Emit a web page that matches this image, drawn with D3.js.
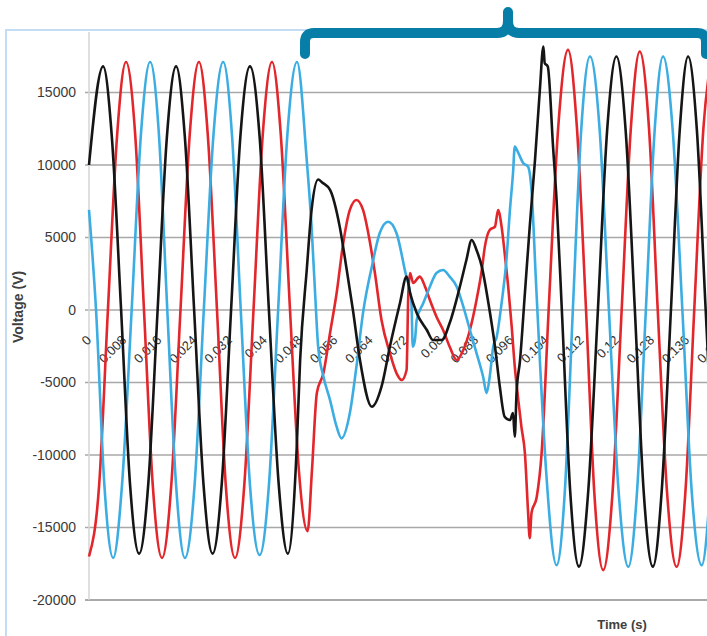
<!DOCTYPE html>
<html>
<head>
<meta charset="utf-8">
<script src="https://cdn.jsdelivr.net/npm/d3@7"></script>
<style>
  body { margin: 0; background: #fff; }
  svg { display: block; font-family: "Liberation Sans", Arial, sans-serif; }
</style>
</head>
<body>
<div id="chart"></div>
<script>
// Tick values
const xTicks = [0, 0.008, 0.016, 0.024, 0.032, 0.04, 0.048, 0.056, 0.064, 0.072,
  0.08, 0.088, 0.096, 0.104, 0.112, 0.12, 0.128, 0.136, 0.144];
const yTicks = [-20000, -15000, -10000, -5000, 0, 5000, 10000, 15000];

// [time (s), voltage (V)]
const phaseBlack = [
  [0, 10000], [0.0032, 16800], [0.0052, 11900], [0.0073, 0], [0.0093, -11900],
  [0.0114, -16800], [0.0135, -11900], [0.0156, 0], [0.0177, 11900], [0.0198, 16800],
  [0.0218, 11900], [0.0239, 0], [0.0260, -11900], [0.0281, -16800], [0.0302, -11900],
  [0.0323, 0], [0.0344, 11900], [0.0366, 16800], [0.0388, 11900], [0.0409, 0],
  [0.0431, -11900], [0.0452, -16800], [0.0472, -9660], [0.0480, -3450], [0.0495, 2760],
  [0.0506, 6900], [0.0521, 9000], [0.0530, 8800], [0.0548, 8280], [0.0570, 5750],
  [0.0586, 2760], [0.0600, 0], [0.0616, -3450], [0.0643, -6670], [0.0665, -5290],
  [0.0684, -2530], [0.0707, 480], [0.0722, 2300], [0.0730, 1170], [0.0745, -200],
  [0.0768, -1380], [0.0782, -2070], [0.0802, -2070], [0.0820, -900], [0.0843, 1590],
  [0.0858, 3450], [0.0870, 4830], [0.0881, 4140], [0.0893, 2990], [0.0908, 480],
  [0.0923, -2530], [0.0934, -5290], [0.0945, -7360], [0.0957, -7590], [0.0964, -7110],
  [0.0968, -8740], [0.0972, -5730], [0.0980, -3450], [0.0991, 1170], [0.1002, 5750],
  [0.1014, 10350], [0.1025, 15180], [0.1033, 18170], [0.1036, 17040], [0.1043, 16790],
  [0.1055, 11270], [0.1063, 7590], [0.1075, 0], [0.1094, -12500], [0.1114, -17700],
  [0.1135, -12500], [0.1157, 0], [0.1178, 12400], [0.1199, 17480], [0.1220, 12400],
  [0.1241, 0], [0.1261, -12500], [0.1282, -17700], [0.1302, -12500], [0.1323, 0],
  [0.1343, 12400], [0.1362, 17480], [0.1382, 12400], [0.1402, 0], [0.1423, -12500],
  [0.1443, -17700]
];

const phaseRed = [
  [0, -17000], [0.0023, -12100], [0.0043, 0], [0.0064, 12100], [0.0084, 17100],
  [0.0105, 12100], [0.0125, 0], [0.0145, -12100], [0.0166, -17100], [0.0187, -12100],
  [0.0208, 0], [0.0229, 12100], [0.0250, 17100], [0.0270, 12100], [0.0291, 0],
  [0.0311, -12100], [0.0332, -17100], [0.0353, -12100], [0.0374, 0], [0.0395, 12100],
  [0.0416, 17100], [0.0436, 12100], [0.0457, 0], [0.0477, -11000], [0.0497, -15250],
  [0.0507, -11000], [0.0518, -5730], [0.0533, -4350], [0.0548, -1590], [0.0563, 1170],
  [0.0578, 4620], [0.0593, 6900], [0.0608, 7590], [0.0623, 6900], [0.0639, 4620],
  [0.0650, 2550], [0.0665, -690], [0.0684, -2970], [0.0699, -4350], [0.0711, -4830],
  [0.0722, -4140], [0.0726, 1170], [0.0730, 2550], [0.0737, 1860], [0.0752, 2300],
  [0.0764, 1610], [0.0775, 690], [0.0790, -460], [0.0805, -1380], [0.0820, -2530],
  [0.0836, -3450], [0.0851, -2760], [0.0866, -1380], [0.0881, 690], [0.0893, 2760],
  [0.0900, 4370], [0.0911, 5520], [0.0923, 5750], [0.0930, 6900], [0.0938, 5750],
  [0.0945, 3930], [0.0953, 1610], [0.0961, -1150], [0.0968, -3910], [0.0976, -6210],
  [0.0983, -8050], [0.0991, -9870], [0.0998, -13800], [0.1002, -15730], [0.1006, -14010],
  [0.1018, -12880], [0.1029, -9870], [0.1045, 0], [0.1067, 12700], [0.1089, 17940],
  [0.1109, 12700], [0.1130, 0], [0.1149, -12700], [0.1169, -17940], [0.1190, -12700],
  [0.1211, 0], [0.1232, 12600], [0.1252, 17820], [0.1273, 12600], [0.1293, 0],
  [0.1314, -12500], [0.1336, -17710], [0.1356, -12500], [0.1376, 0], [0.1397, 12600],
  [0.1417, 17800]
];

const phaseBlue = [
  [0, 6900], [0.0016, 0], [0.0035, -12100], [0.0055, -17100], [0.0075, -12100],
  [0.0097, 0], [0.0118, 12100], [0.0139, 17100], [0.0159, 12100], [0.0178, 0],
  [0.0198, -12100], [0.0218, -17100], [0.0240, -12100], [0.0261, 0], [0.0283, 12100],
  [0.0305, 17100], [0.0325, 12100], [0.0345, 0], [0.0366, -12100], [0.0388, -16900],
  [0.0409, -12100], [0.0430, 0], [0.0451, 12100], [0.0473, 17100], [0.0495, 10350],
  [0.0506, 5750], [0.0514, 1170], [0.0521, -2530], [0.0533, -4600], [0.0548, -6210],
  [0.0563, -8050], [0.0574, -8850], [0.0593, -7110], [0.0608, -3910], [0.0623, -200],
  [0.0643, 2990], [0.0661, 5310], [0.0680, 6090], [0.0699, 5310], [0.0718, 2760],
  [0.0733, 480], [0.0736, -2530], [0.0741, -2070], [0.0745, -690], [0.0760, 480],
  [0.0775, 1610], [0.0790, 2550], [0.0805, 2760], [0.0820, 2300], [0.0836, 1610],
  [0.0851, 230], [0.0866, -1380], [0.0881, -2970], [0.0896, -4600], [0.0904, -5730],
  [0.0911, -4600], [0.0919, -2530], [0.0927, -1840], [0.0938, 480], [0.0949, 3450],
  [0.0957, 6900], [0.0964, 9450], [0.0968, 11270], [0.0976, 10830], [0.0987, 10140],
  [0.0998, 9890], [0.1006, 8280], [0.1016, 2070], [0.1025, -3450], [0.1039, -11000],
  [0.1063, -17600], [0.1082, -12400], [0.1100, 0], [0.1119, 12400], [0.1139, 17480],
  [0.1161, 12400], [0.1182, 0], [0.1204, -12500], [0.1226, -17710], [0.1246, -12500],
  [0.1266, 0], [0.1286, 12400], [0.1305, 17480], [0.1327, 12400], [0.1349, 0],
  [0.1370, -12400], [0.1393, -17600], [0.1412, -12400], [0.1432, 0]
];

const series = [
  {name: "red", color: "#e2262b", values: phaseRed},
  {name: "blue", color: "#3cade2", values: phaseBlue},
  {name: "black", color: "#151515", values: phaseBlack}
];

// Set the dimensions of the graph
const width = 707;
const height = 636;
const plot = {left: 89, right: 707, top: 32, bottom: 600};

const svg = d3.select("#chart")
  .append("svg")
    .attr("width", width)
    .attr("height", height);

// Chart border (light blue frame)
svg.append("rect")
  .attr("x", 6).attr("y", 30)
  .attr("width", 720).attr("height", 640)
  .attr("fill", "#fff")
  .attr("stroke", "#c4dbf4")
  .attr("stroke-width", 2);

const x = d3.scaleLinear()
  .domain([0, 0.1405])
  .range([plot.left, plot.right]);

const y = d3.scaleLinear()
  .domain([-20000, 15000])
  .range([plot.bottom, 92.5]);

// Horizontal gridlines
svg.append("g")
  .selectAll("line")
  .data(yTicks)
  .join("line")
    .attr("x1", plot.left - 4)
    .attr("x2", width)
    .attr("y1", d => y(d))
    .attr("y2", d => y(d))
    .attr("stroke", d => d === -20000 ? "#8c8c8c" : "#a8a8a8")
    .attr("stroke-width", 1.5);

// Vertical axis line
svg.append("line")
  .attr("x1", plot.left).attr("x2", plot.left)
  .attr("y1", plot.top).attr("y2", plot.bottom)
  .attr("stroke", "#d4d4d4")
  .attr("stroke-width", 1.5);

// Y tick labels
svg.append("g")
  .selectAll("text")
  .data(yTicks)
  .join("text")
    .attr("x", 76)
    .attr("y", d => y(d))
    .attr("dy", "0.35em")
    .attr("text-anchor", "end")
    .attr("fill", "#3a3a3a")
    .style("font-size", "14px")
    .text(d => d);

// X tick labels, rotated along the zero line
// (the last one runs off the right edge, as in the source image)
const fmt = d => String(+d.toFixed(3));
svg.append("g")
  .selectAll("text")
  .data(xTicks)
  .join("text")
    .attr("transform", d => `translate(${x(d) + 3},${y(0) + 31}) rotate(-45)`)
    .attr("text-anchor", "end")
    .attr("fill", "#333")
    .style("font-size", "13px")
    .text(fmt);

// Axis titles
svg.append("text")
  .attr("transform", `translate(23,${y(0) - 3}) rotate(-90)`)
  .attr("text-anchor", "middle")
  .attr("fill", "#404040")
  .style("font-size", "14px")
  .style("font-weight", "bold")
  .text("Voltage (V)");

svg.append("text")
  .attr("x", 622)
  .attr("y", 629)
  .attr("text-anchor", "middle")
  .attr("fill", "#404040")
  .style("font-size", "13px")
  .style("font-weight", "bold")
  .text("Time (s)");

// Waveforms
const line = d3.line()
  .x(d => x(d[0]))
  .y(d => y(d[1]))
  .curve(d3.curveMonotoneX);

svg.append("g")
  .selectAll("path")
  .data(series)
  .join("path")
    .attr("fill", "none")
    .attr("stroke", d => d.color)
    .attr("stroke-width", 2.6)
    .attr("stroke-linejoin", "round")
    .attr("d", d => line(d.values));

// Brace over the disturbance
svg.append("path")
  .attr("d", "M305,54 L305,42 Q305,33 314,33 L497,33 Q508,33 508,21 L508,12 L508,21 Q508,33 519,33 L697,33 Q706,33 706,42 L706,54")
  .attr("fill", "none")
  .attr("stroke", "#067ea7")
  .attr("stroke-width", 10)
  .attr("stroke-linejoin", "round")
  .attr("stroke-linecap", "round");
</script>
</body>
</html>
